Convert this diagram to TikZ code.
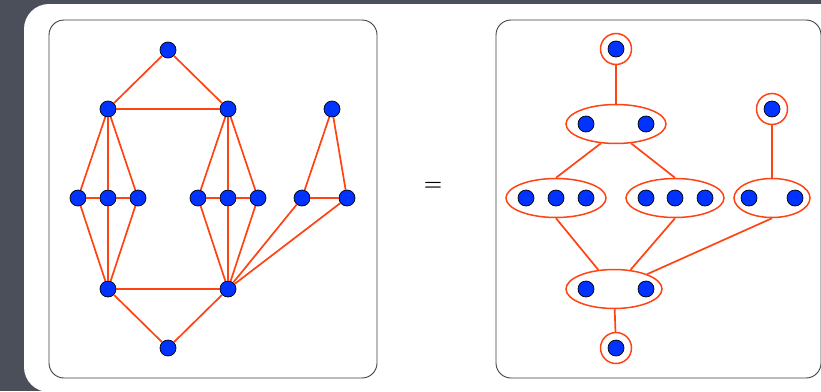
\documentclass[tikz,border=0pt]{standalone}
\usetikzlibrary{shapes.geometric}
\definecolor{slate}{RGB}{74,79,89}
\definecolor{dotblue}{RGB}{0,51,255}
\definecolor{edgered}{RGB}{255,68,20}
\tikzset{
  dot/.style={circle, draw=black, line width=0.7pt, fill=dotblue, inner sep=0pt, minimum size=16pt},
  ring/.style={circle, draw=edgered, line width=1.5pt, inner sep=0pt, minimum size=31pt},
  blob/.style={ellipse, draw=edgered, line width=1.5pt, inner sep=0pt, minimum width=#1, minimum height=39pt},
  blob/.default=100pt,
  link/.style={draw=edgered, line width=1.7pt},
  panel/.style={draw=black!75, line width=0.9pt, fill=white, rounded corners=15pt}
}
\begin{document}
\begin{tikzpicture}[x=1pt, y=-1pt]
\useasboundingbox (0,0) rectangle (821,391);
\clip (0,0) rectangle (821,391);
% backdrop and frames
\fill[slate] (0,0) rectangle (821,391);
\fill[white, rounded corners=25pt] (24,4) rectangle (860,392);
\draw[panel] (49,20) rectangle (377,378);
\draw[panel] (496,20) rectangle (821,378);
% left graph
\node[dot] (t) at (168,50) {};
\node[dot] (a1) at (108,109) {};
\node[dot] (a2) at (228,109) {};
\node[dot] (a3) at (332,109) {};
\node[dot] (l1) at (78,198) {};
\node[dot] (l2) at (108,198) {};
\node[dot] (l3) at (138,198) {};
\node[dot] (m1) at (198,198) {};
\node[dot] (m2) at (228,198) {};
\node[dot] (m3) at (258,198) {};
\node[dot] (r1) at (302,198) {};
\node[dot] (r2) at (347,198) {};
\node[dot] (b1) at (108,289) {};
\node[dot] (b2) at (228,289) {};
\node[dot] (bt) at (168,348) {};
\foreach \u/\v in {t/a1, t/a2, a1/a2,
    a1/l1, a1/l2, a1/l3, l1/l2, l2/l3, l1/b1, l2/b1, l3/b1,
    a2/m1, a2/m2, a2/m3, m1/m2, m2/m3, m1/b2, m2/b2, m3/b2,
    a3/r1, a3/r2, r1/r2, r1/b2, r2/b2,
    b1/b2, b1/bt, b2/bt}
  \draw[link] (\u) -- (\v);
% equals sign
\node (eq) at (433,186) {\fontsize{21}{21}\selectfont\bfseries =};
% right graph: groups
\node[ring] (p1) at (616,49) {};
\node[ring] (p2) at (772,109) {};
\node[ring] (p3) at (616,348) {};
\node[blob] (e1) at (616,124) {};
\node[blob] (e2) at (556,198) {};
\node[blob=98pt] (e3) at (675,198) {};
\node[blob=76pt] (e4) at (772,198) {};
\node[blob=96pt] (e5) at (614,289) {};
\draw[link] (p1) -- (e1);
\draw[link] (p2) -- (e4);
\draw[link] (e1.232) -- (e2.north);
\draw[link] (e1.308) -- (e3.north);
\draw[link] (e2.south) -- (e5);
\draw[link] (e3.south) -- (e5);
\draw[link] (e4.south) -- (e5);
\draw[link] (e5) -- (p3);
% right graph: members
\foreach \x/\y in {616/49, 772/109, 616/348,
    586/124, 646/124,
    526/198, 556/198, 586/198,
    646/198, 675/198, 705/198,
    749/198, 795/198,
    586/289, 646/289}
  \node[dot] (d\x-\y) at (\x,\y) {};
\end{tikzpicture}
\end{document}
